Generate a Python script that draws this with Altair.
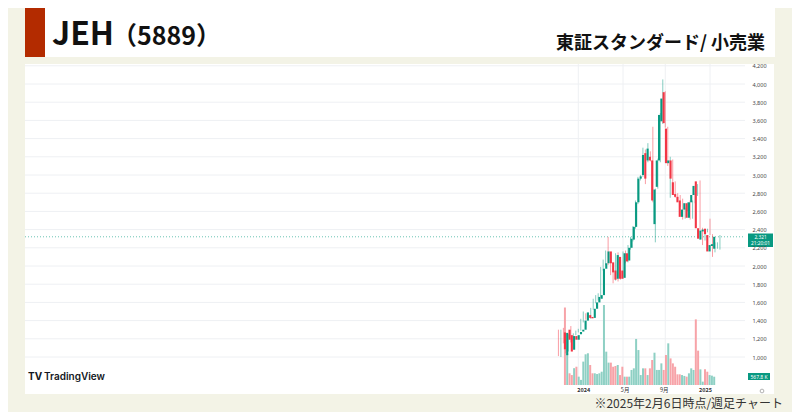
import altair as alt
import pandas as pd

# ---------------- data ----------------
weeks = list(pd.date_range("2023-11-06", periods=66, freq="7D").strftime("%Y-%m-%d"))
opens = [1270, 1020, 1300, 1240, 1080, 1230, 1190, 1250, 1280, 1300,
         1400, 1460, 1440, 1430, 1530, 1600, 1640, 1680, 1970, 2030,
         2160, 2040, 1950, 1860, 2100, 1950, 1870, 2140, 2060, 2200,
         2290, 2430, 2700, 2960, 3000, 3240, 3160, 3200, 3160, 2460,
         2870, 3160, 3590, 3910, 3510, 3130, 3160, 2920, 2790, 2760,
         2720, 2540, 2620, 2690, 2530, 2700, 2780, 2930, 2415, 2290,
         2380, 2410, 2340, 2160, 2220, 2190]
highs = [1300, 1300, 1320, 1260, 1250, 1340, 1260, 1290, 1310, 1420,
         1500, 1480, 1470, 1540, 1640, 1680, 1700, 1990, 2070, 2170,
         2320, 2060, 1970, 2140, 2150, 1980, 2160, 2170, 2230, 2320,
         2440, 2720, 2980, 3000, 3300, 3280, 3350, 3260, 3530, 2850,
         3180, 3680, 4050, 3920, 3530, 3200, 3170, 2930, 2800, 2780,
         2740, 2640, 2700, 2720, 2720, 2800, 2900, 2940, 2420, 2400,
         2410, 2520, 2350, 2260, 2260, 2340]
lows = [1010, 1000, 1150, 1040, 1060, 1160, 1170, 1240, 1270, 1290,
        1380, 1410, 1420, 1420, 1520, 1590, 1620, 1660, 1950, 2010,
        2010, 1900, 1810, 1840, 1830, 1850, 1860, 2030, 2040, 2180,
        2270, 2410, 2680, 2940, 2980, 2900, 3140, 3150, 2700, 2260,
        2850, 3140, 3560, 3520, 3100, 2750, 2830, 2750, 2720, 2650,
        2510, 2520, 2600, 2510, 2520, 2690, 2770, 2400, 2230, 2280,
        2370, 2340, 2100, 2150, 2190, 2180]
closes = [1085, 1265, 1190, 1060, 1230, 1190, 1240, 1275, 1300, 1400,
          1490, 1430, 1425, 1530, 1600, 1660, 1680, 1970, 2030, 2160,
          2030, 1930, 1850, 2120, 1860, 1860, 2140, 2050, 2200, 2300,
          2430, 2700, 2960, 2985, 3220, 2960, 3290, 3160, 2720, 2840,
          3160, 3660, 3840, 3570, 3130, 3160, 2960, 2780, 2760, 2700,
          2540, 2620, 2690, 2530, 2700, 2780, 2880, 2415, 2300, 2390,
          2400, 2350, 2160, 2230, 2240, 2321]
volumes = [5300000, 2150000, 800000, 680000, 1150000, 1250000, 570000, 350000, 1600000, 2100000,
           2170000, 1370000, 800000, 800000, 750000, 800000, 910000, 5470000, 2280000, 1530000,
           1530000, 1250000, 1300000, 1370000, 680000, 1250000, 570000, 570000, 570000, 1030000,
           1140000, 3150000, 2390000, 680000, 1140000, 1140000, 680000, 1140000, 1710000, 2210000,
           1030000, 1030000, 1480000, 1030000, 2050000, 2850000, 1820000, 1480000, 1250000, 730000,
           730000, 680000, 620000, 570000, 800000, 1140000, 1030000, 4490000, 2350000, 1070000,
           230000, 1070000, 910000, 680000, 640000, 567800]

price_ticks = [1000, 1200, 1400, 1600, 1800, 2000, 2200, 2400, 2600, 2800,
               3000, 3200, 3400, 3600, 3800, 4000, 4200]
x_tick_dates = ["2024-01-01", "2024-05-06", "2024-09-02", "2025-01-06"]
last_price = 2321
last_price_text = "2,321"
countdown_text = "21:20:01"
last_volume_text = "567.8 K"
title_main = "JEH"
title_code = "（5889）"
title_market = "東証スタンダード/ 小売業"
footer_text = "※2025年2月6日時点/週足チャート"
brand_text = "TradingView"

# ---------------- style ----------------
UP = "#089981"
DOWN = "#F23645"
UP_VOL = "#8ED0C4"
DOWN_VOL = "#F7A3A8"
BG = "#F3F3E6"
GRID = "#EEF0F3"
JP = "Noto Sans CJK JP"

VW, VH = 720, 321

df = pd.DataFrame({"date": weeks, "open": opens, "high": highs, "low": lows,
                   "close": closes, "volume": volumes})
grid_df = pd.DataFrame({"p": price_ticks})
vgrid_df = pd.DataFrame({"d": x_tick_dates})
one = pd.DataFrame({"k": [0]})


def xscale():
    return alt.Scale(type="utc",
                     domain=[alt.DateTime(year=2024, month=1, date=1, utc=True),
                             alt.DateTime(year=2025, month=1, date=6, utc=True)],
                     range=[553.3, 685.0])


def pscale():
    return alt.Scale(domain=[800, 4200], range=[311.2, 1.8], nice=False, zero=False)


def vscale():
    return alt.Scale(domain=[0, 6840000], range=[VH, VH - 100], nice=False, zero=False)


col = alt.condition("datum.close >= datum.open", alt.value(UP), alt.value(DOWN))
vcol = alt.condition("datum.close >= datum.open", alt.value(UP_VOL), alt.value(DOWN_VOL))


def box(x, x2, y, y2, color):
    return alt.Chart(one).mark_rect(color=color).encode(
        x=alt.value(x), x2=alt.value(x2), y=alt.value(y), y2=alt.value(y2))


def txt(s, x, y, size, color="#111", weight="normal", align="left", baseline="alphabetic", font=JP):
    return alt.Chart(one).mark_text(text=s, fontSize=size, color=color, fontWeight=weight,
                                    align=align, baseline=baseline, font=font).encode(
        x=alt.value(x), y=alt.value(y))


panel = box(0, 749, 0, 330, "white")
header = box(0, 750, -56, -7, "white")
redbar = box(0, 20, -56, -7, "#B32B00")

hgrid = alt.Chart(grid_df).mark_rule(color=GRID, strokeWidth=1).encode(
    y=alt.Y("p:Q", scale=pscale(), axis=None), x=alt.value(0), x2=alt.value(VW))
vgrid = alt.Chart(vgrid_df).mark_rule(color=GRID, strokeWidth=1).encode(
    x=alt.X("d:T", scale=xscale(), axis=None), y=alt.value(0), y2=alt.value(VH))

vol = alt.Chart(df).mark_bar(size=2.0).encode(
    x=alt.X("date:T", scale=xscale(), axis=None),
    y=alt.Y("volume:Q", scale=vscale(), axis=None),
    y2=alt.datum(0),
    color=vcol)

lastline = alt.Chart(pd.DataFrame({"p": [last_price]})).mark_rule(
    color=UP, strokeDash=[1, 2], strokeWidth=1, opacity=0.6).encode(
    y=alt.Y("p:Q", scale=pscale(), axis=None), x=alt.value(0), x2=alt.value(VW))

wick = alt.Chart(df).mark_rule(strokeWidth=0.9, opacity=0.55).encode(
    x=alt.X("date:T", scale=xscale(), axis=None),
    y=alt.Y("low:Q", scale=pscale(), axis=None),
    y2="high:Q",
    color=col)

body = alt.Chart(df).mark_bar(size=2.1).encode(
    x=alt.X("date:T", scale=xscale(),
            axis=alt.Axis(values=[alt.DateTime(year=2024, month=1, date=1, utc=True),
                                  alt.DateTime(year=2024, month=5, date=6, utc=True),
                                  alt.DateTime(year=2024, month=9, date=2, utc=True),
                                  alt.DateTime(year=2025, month=1, date=6, utc=True)],
                          labelExpr="utcmonth(datum.value) == 0 ? utcFormat(datum.value, '%Y') : (utcmonth(datum.value) + 1) + '月'",
                          labelFontWeight={"condition": {"test": "utcmonth(datum.value) == 0", "value": "bold"}, "value": "normal"},
                          labelFontSize=5.5, labelColor="#333", labelFont=JP,
                          labelPadding=2, ticks=False, domain=False, grid=False,
                          title=None, labelOverlap=False, zindex=2)),
    y=alt.Y("open:Q", scale=pscale(),
            axis=alt.Axis(orient="right", values=price_ticks, format=",d",
                          labelFontSize=5.5, labelColor="#444", labelFont="Noto Sans",
                          labelPadding=7, ticks=False, domain=False, grid=False,
                          title=None, labelOverlap=False, zindex=2)),
    y2="close:Q",
    color=col)

pricebox = box(723, 748, 169.5, 183, UP)
price_t1 = txt(last_price_text, 735.5, 173.5, 4.8, "white", align="center", baseline="middle", font="Noto Sans")
price_t2 = txt(countdown_text, 735.5, 179.5, 4.8, "white", align="center", baseline="middle", font="Noto Sans")
volbox = box(723, 745, 309, 316, UP)
vol_t = txt(last_volume_text, 734, 312.5, 5, "white", align="center", baseline="middle", font="Noto Sans")

gear = alt.Chart(one).mark_point(shape="circle", size=14, color="#777", strokeWidth=0.8).encode(
    x=alt.value(737), y=alt.value(327))

t_main = txt(title_main, 27, -19, 32, "#111", weight="bold")
t_code = txt(title_code, 87, -19, 25, "#111", weight="bold")
t_market = txt(title_market, 740, -15, 18, "#111", weight="bold", align="right")
t_footer = txt(footer_text, 758, 344.2, 12, "#333", align="right")
t_logo = txt("TV", 3, 313, 10, "#131722", weight="bold", baseline="middle", font="Inter")
t_brand = txt(brand_text, 19, 313, 10, "#131722", weight=600, baseline="middle", font="Inter")

chart = alt.layer(
    panel, header, redbar, hgrid, vgrid, vol, lastline, wick, body,
    pricebox, price_t1, price_t2, volbox, vol_t, gear,
    t_main, t_code, t_market, t_footer, t_logo, t_brand
).resolve_scale(x="independent", y="independent").properties(
    width=VW, height=VH,
    autosize=alt.AutoSizeParams(type="none"),
    padding={"left": 17, "top": 56, "right": 47, "bottom": 27},
    background=BG,
).configure_view(stroke=None)

chart.save("out.html", embed_options={"renderer": "svg", "actions": False})
